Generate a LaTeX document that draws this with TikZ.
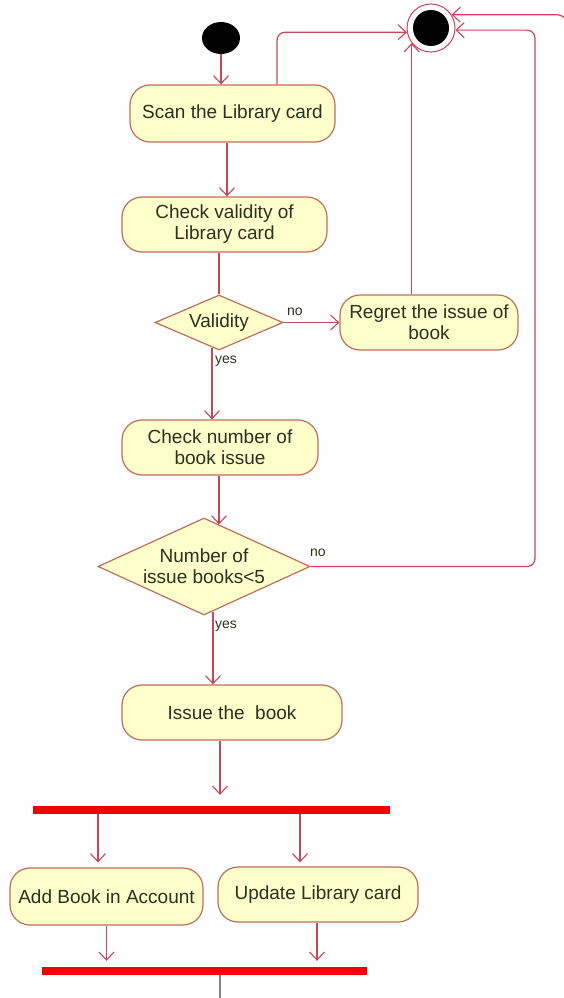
\documentclass[tikz,border=0pt]{standalone}
\usepackage{fontspec}
\setmainfont{Liberation Sans}
\usetikzlibrary{shapes.geometric,arrows.meta,calc}
\definecolor{lc}{RGB}{200,70,90}
\definecolor{bc}{RGB}{190,110,90}
\definecolor{bf}{RGB}{255,255,204}
\definecolor{tc}{RGB}{40,50,30}
\definecolor{barred}{RGB}{240,0,0}
\begin{document}
\begin{tikzpicture}[x=1pt,y=-1pt,
  font=\fontsize{19}{21}\selectfont,
  act/.style={rectangle, rounded corners=20pt, draw=bc, line width=1.2pt, fill=bf,
    text=tc, align=center, inner sep=0pt},
  dec/.style={diamond, draw=bc, line width=1.2pt, fill=bf, text=tc, align=center,
    inner sep=0pt},
  bar/.style={rectangle, fill=barred, inner sep=0pt, minimum height=8pt},
  flow/.style={draw=lc, line width=1.2pt, -{Straight Barb[length=8pt,width=15pt,line width=1.1pt]}},
  plain/.style={draw=lc, line width=1.2pt},
  lbl/.style={text=tc, font=\fontsize{14}{16}\selectfont, inner sep=0pt, anchor=west}]
\useasboundingbox (0,0) rectangle (563,998);

% nodes
\node[ellipse, fill=black, minimum width=38pt, minimum height=32pt, inner sep=0pt] (start) at (221,38) {};
\node[circle, draw=lc, line width=1pt, minimum size=48pt, inner sep=0pt,
  path picture={\fill[black] (path picture bounding box.center) circle (18pt);}] (end) at (431,28) {};
\node[act, minimum width=205pt, minimum height=57pt] (scan) at (232.5,113.5) {Scan the Library card};
\node[act, minimum width=205pt, minimum height=55pt] (chk1) at (224.5,224.5) {Check validity of\\Library card};
\node[dec, aspect=2.33, minimum width=128pt, minimum height=55pt] (val) at (219,322.5) {Validity};
\node[act, minimum width=178pt, minimum height=55pt] (regret) at (429,322.5) {Regret the issue of\\book};
\node[act, minimum width=196pt, minimum height=55pt] (chk2) at (220,447.5) {Check number of\\book issue};
\node[dec, aspect=2.19, minimum width=212pt, minimum height=97pt] (num) at (204,566.5) {Number of\\issue books<5};
\node[act, minimum width=220pt, minimum height=55pt] (issue) at (232,712.5) {Issue the~ book};
\node[bar, minimum width=357pt] (fork) at (211.5,810) {};
\node[act, minimum width=193pt, minimum height=57pt] (add) at (106.5,896.5) {Add Book in Account};
\node[act, minimum width=200pt, minimum height=55pt] (upd) at (318,894.5) {Update Library card};
\node[bar, minimum width=325pt] (join) at (204.5,971) {};

% helper coordinates
\coordinate (v1) at ($(val.south)+(-7,-3)$);
\coordinate (n1) at ($(num.north)+(15,7)$);
\coordinate (n2) at ($(num.south)+(9,-4)$);
\coordinate (rx) at (535,0);
\coordinate (ry) at (567,90);
\coordinate (bot) at (220,1005);

% connectors
\draw[flow] (start.south) -- (start.south |- scan.north);
\draw[flow, rounded corners=8pt] ([xshift=44.5pt]scan.south |- scan.north) |- (end.190);
\draw[flow] ([xshift=-5.5pt]scan.south) -- ([xshift=-5.5pt]scan.south |- chk1.north);
\draw[plain] (val.north |- chk1.south) -- (val.north);
\draw[flow] (val.east) -- (regret.west);
\node[lbl] (lno1) at (287,312) {no};
\draw[flow] (end.218 |- regret.north) -- (end.218);
\draw[flow] (v1) -- (v1 |- chk2.north);
\node[lbl] (lyes1) at (215,361) {yes};
\draw[flow] (n1 |- chk2.south) -- (n1);
\draw[flow, rounded corners=8pt] (num.east) -| (rx |- end.355) -- (end.355);
\node[lbl] (lno2) at (310,553) {no};
\draw[flow, rounded corners=10pt] (ry) |- (end.33);
\draw[flow] (n2) -- (n2 |- issue.north);
\node[lbl] (lyes2) at (215,626) {yes};
\draw[flow, shorten >=11pt] ([xshift=-12pt]issue.south) -- ([xshift=-12pt]issue.south |- fork.north);
\draw[flow, shorten >=5pt] (fork.south -| add.north) ++(-8.5,0) coordinate (f1) -- (f1 |- add.north);
\draw[flow, shorten >=4pt] ([xshift=-18pt]upd.north |- fork.south) -- ([xshift=-18pt]upd.north);
\draw[flow, shorten >=6pt] (add.south) -- (add.south |- join.north);
\draw[flow, shorten >=6pt] ([xshift=-1pt]upd.south) -- ([xshift=-1pt]upd.south |- join.north);
\draw[draw=gray, line width=1.2pt] (join.south -| bot) -- (bot);
\end{tikzpicture}
\end{document}
